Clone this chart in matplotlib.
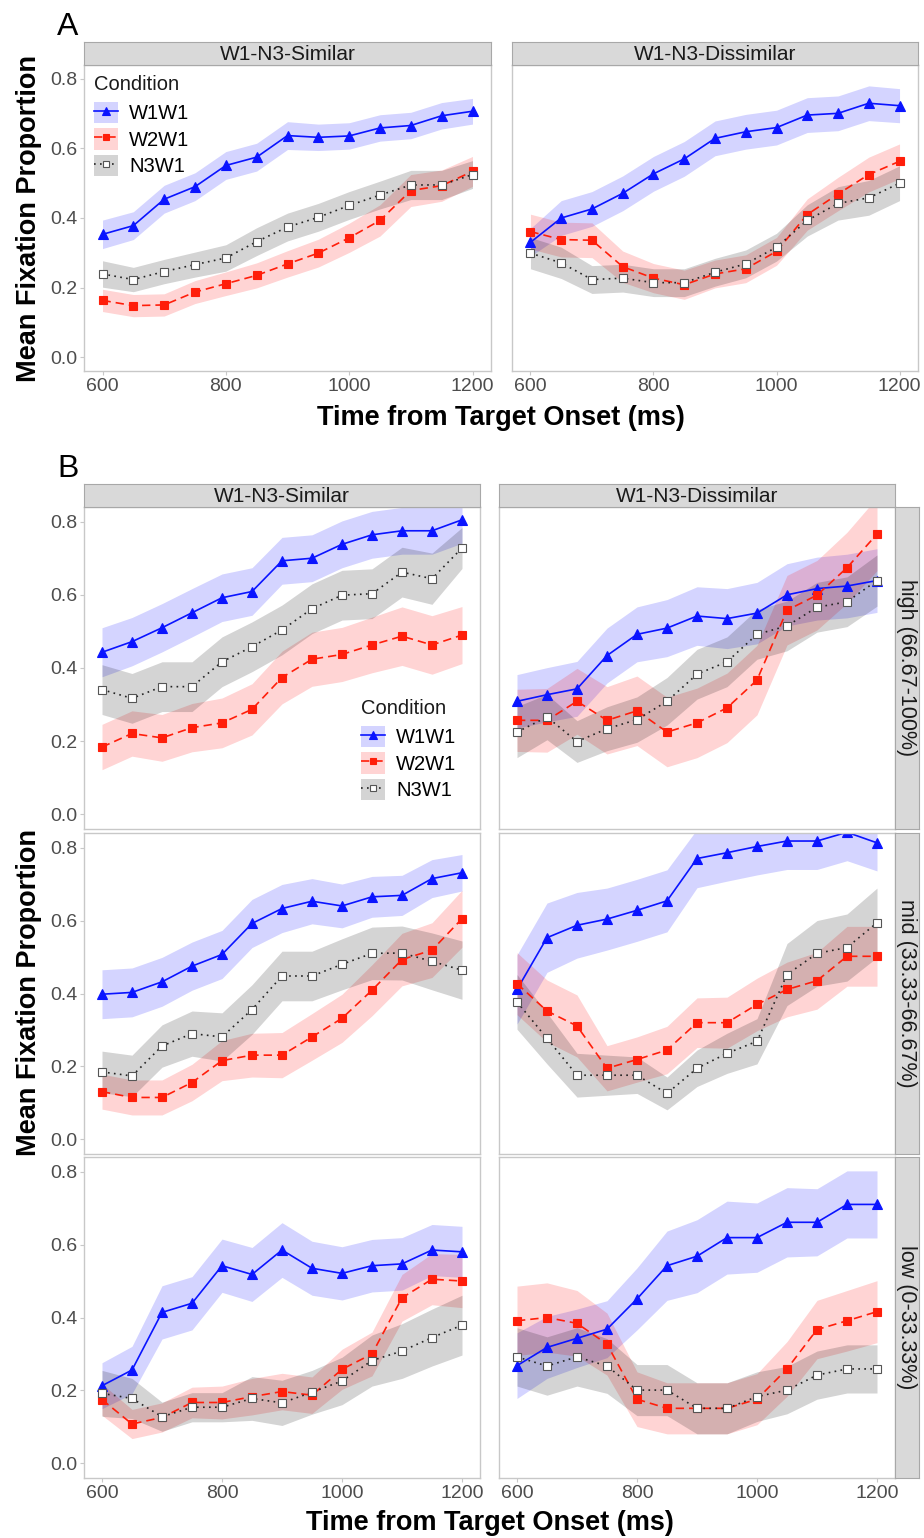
import matplotlib
matplotlib.use("Agg")
import matplotlib.pyplot as plt
from matplotlib.patches import Patch
from matplotlib.lines import Line2D
from matplotlib.legend_handler import HandlerTuple
import numpy as np

plt.rcParams['font.family'] = ['Liberation Sans', 'DejaVu Sans']

# ---------------- data ----------------
time_ms = [600, 650, 700, 750, 800, 850, 900, 950, 1000, 1050, 1100, 1150, 1200]
conditions = ["W1W1", "W2W1", "N3W1"]
legend_title = "Condition"
similarity_labels = ["W1-N3-Similar", "W1-N3-Dissimilar"]
level_labels = ["high (66.67-100%)", "mid (33.33-66.67%)", "low (0-33.33%)"]
y_ticks = [0.0, 0.2, 0.4, 0.6, 0.8]
x_ticks = [600, 800, 1000, 1200]

# Panel A - Similar
A_sim_W1W1 = [0.353, 0.378, 0.454, 0.490, 0.551, 0.575, 0.637, 0.632, 0.636, 0.659, 0.666, 0.694, 0.707]
A_sim_W1W1_se = [0.041, 0.040, 0.040, 0.040, 0.040, 0.040, 0.040, 0.038, 0.038, 0.038, 0.038, 0.038, 0.037]
A_sim_W2W1 = [0.163, 0.148, 0.150, 0.187, 0.211, 0.235, 0.268, 0.299, 0.343, 0.393, 0.479, 0.493, 0.534]
A_sim_W2W1_se = [0.032, 0.032, 0.032, 0.033, 0.034, 0.036, 0.038, 0.040, 0.042, 0.045, 0.046, 0.045, 0.043]
A_sim_N3W1 = [0.239, 0.223, 0.246, 0.266, 0.285, 0.332, 0.374, 0.402, 0.436, 0.466, 0.495, 0.495, 0.525]
A_sim_N3W1_se = [0.038, 0.035, 0.035, 0.036, 0.038, 0.040, 0.040, 0.040, 0.040, 0.040, 0.042, 0.042, 0.040]

# Panel A - Dissimilar
A_dis_W1W1 = [0.330, 0.400, 0.426, 0.471, 0.527, 0.570, 0.629, 0.648, 0.660, 0.696, 0.701, 0.730, 0.723]
A_dis_W1W1_se = [0.040, 0.050, 0.050, 0.050, 0.050, 0.050, 0.050, 0.050, 0.050, 0.050, 0.050, 0.050, 0.049]
A_dis_W2W1 = [0.361, 0.338, 0.336, 0.260, 0.227, 0.208, 0.239, 0.254, 0.304, 0.410, 0.469, 0.525, 0.563]
A_dis_W2W1_se = [0.050, 0.050, 0.050, 0.045, 0.042, 0.042, 0.040, 0.040, 0.040, 0.045, 0.048, 0.050, 0.050]
A_dis_N3W1 = [0.299, 0.271, 0.223, 0.227, 0.214, 0.214, 0.244, 0.268, 0.316, 0.393, 0.442, 0.458, 0.500]
A_dis_N3W1_se = [0.045, 0.045, 0.040, 0.040, 0.040, 0.040, 0.040, 0.040, 0.040, 0.045, 0.048, 0.050, 0.050]

# Panel B - high
B_high_sim_W1W1 = [0.443, 0.472, 0.510, 0.551, 0.592, 0.609, 0.693, 0.700, 0.738, 0.764, 0.775, 0.775, 0.805]
B_high_sim_W1W1_se = [0.067, 0.066, 0.066, 0.066, 0.065, 0.065, 0.064, 0.064, 0.064, 0.064, 0.064, 0.064, 0.064]
B_high_sim_W2W1 = [0.184, 0.221, 0.209, 0.237, 0.250, 0.287, 0.374, 0.424, 0.437, 0.463, 0.487, 0.463, 0.490]
B_high_sim_W2W1_se = [0.062, 0.062, 0.064, 0.066, 0.068, 0.070, 0.072, 0.074, 0.074, 0.076, 0.080, 0.080, 0.078]
B_high_sim_N3W1 = [0.341, 0.317, 0.349, 0.349, 0.417, 0.458, 0.504, 0.562, 0.599, 0.603, 0.662, 0.644, 0.728]
B_high_sim_N3W1_se = [0.068, 0.068, 0.068, 0.068, 0.068, 0.068, 0.068, 0.068, 0.068, 0.068, 0.068, 0.070, 0.056]

B_high_dis_W1W1 = [0.309, 0.327, 0.343, 0.434, 0.492, 0.509, 0.542, 0.535, 0.550, 0.600, 0.617, 0.624, 0.639]
B_high_dis_W1W1_se = [0.073, 0.074, 0.075, 0.075, 0.075, 0.078, 0.080, 0.082, 0.084, 0.085, 0.086, 0.087, 0.087]
B_high_dis_W2W1 = [0.257, 0.257, 0.309, 0.257, 0.283, 0.225, 0.250, 0.291, 0.367, 0.558, 0.599, 0.674, 0.766]
B_high_dis_W2W1_se = [0.085, 0.087, 0.090, 0.092, 0.095, 0.095, 0.095, 0.095, 0.095, 0.095, 0.095, 0.097, 0.100]
B_high_dis_N3W1 = [0.225, 0.266, 0.199, 0.234, 0.259, 0.309, 0.383, 0.417, 0.492, 0.515, 0.566, 0.581, 0.639]
B_high_dis_N3W1_se = [0.070, 0.062, 0.057, 0.060, 0.062, 0.065, 0.068, 0.068, 0.068, 0.068, 0.068, 0.068, 0.070]

# Panel B - mid
B_mid_sim_W1W1 = [0.398, 0.403, 0.432, 0.475, 0.507, 0.592, 0.633, 0.653, 0.640, 0.665, 0.669, 0.715, 0.731]
B_mid_sim_W1W1_se = [0.067, 0.067, 0.067, 0.066, 0.066, 0.066, 0.066, 0.062, 0.060, 0.056, 0.055, 0.052, 0.050]
B_mid_sim_W2W1 = [0.131, 0.115, 0.115, 0.156, 0.216, 0.231, 0.231, 0.281, 0.332, 0.409, 0.493, 0.519, 0.605]
B_mid_sim_W2W1_se = [0.048, 0.048, 0.048, 0.050, 0.055, 0.060, 0.062, 0.064, 0.066, 0.070, 0.072, 0.075, 0.078]
B_mid_sim_N3W1 = [0.185, 0.174, 0.256, 0.290, 0.281, 0.356, 0.448, 0.448, 0.480, 0.510, 0.511, 0.488, 0.464]
B_mid_sim_N3W1_se = [0.057, 0.057, 0.058, 0.062, 0.066, 0.068, 0.068, 0.068, 0.070, 0.072, 0.074, 0.078, 0.080]

B_mid_dis_W1W1 = [0.411, 0.553, 0.587, 0.604, 0.628, 0.654, 0.770, 0.786, 0.803, 0.818, 0.818, 0.842, 0.813]
B_mid_dis_W1W1_se = [0.095, 0.095, 0.090, 0.085, 0.085, 0.085, 0.080, 0.078, 0.078, 0.078, 0.078, 0.078, 0.077]
B_mid_dis_W2W1 = [0.427, 0.352, 0.311, 0.195, 0.219, 0.245, 0.320, 0.320, 0.370, 0.411, 0.435, 0.502, 0.502]
B_mid_dis_W2W1_se = [0.085, 0.085, 0.085, 0.062, 0.062, 0.065, 0.068, 0.070, 0.072, 0.075, 0.078, 0.082, 0.082]
B_mid_dis_N3W1 = [0.377, 0.277, 0.176, 0.176, 0.176, 0.126, 0.195, 0.236, 0.269, 0.452, 0.510, 0.526, 0.594]
B_mid_dis_N3W1_se = [0.075, 0.070, 0.060, 0.055, 0.050, 0.045, 0.050, 0.055, 0.062, 0.085, 0.090, 0.092, 0.095]

# Panel B - low
B_low_sim_W1W1 = [0.213, 0.256, 0.414, 0.439, 0.542, 0.518, 0.585, 0.535, 0.521, 0.542, 0.547, 0.585, 0.580]
B_low_sim_W1W1_se = [0.063, 0.065, 0.073, 0.073, 0.073, 0.074, 0.075, 0.074, 0.073, 0.072, 0.072, 0.070, 0.070]
B_low_sim_W2W1 = [0.175, 0.108, 0.126, 0.167, 0.167, 0.183, 0.197, 0.187, 0.258, 0.300, 0.454, 0.505, 0.500]
B_low_sim_W2W1_se = [0.043, 0.040, 0.040, 0.042, 0.045, 0.050, 0.050, 0.050, 0.055, 0.060, 0.064, 0.070, 0.073]
B_low_sim_N3W1 = [0.192, 0.178, 0.128, 0.154, 0.154, 0.178, 0.166, 0.195, 0.226, 0.282, 0.308, 0.345, 0.379]
B_low_sim_N3W1_se = [0.063, 0.055, 0.040, 0.040, 0.040, 0.060, 0.062, 0.060, 0.065, 0.070, 0.075, 0.078, 0.082]

B_low_dis_W1W1 = [0.268, 0.318, 0.343, 0.368, 0.451, 0.542, 0.568, 0.619, 0.619, 0.661, 0.661, 0.710, 0.710]
B_low_dis_W1W1_se = [0.090, 0.085, 0.080, 0.078, 0.085, 0.095, 0.100, 0.100, 0.095, 0.095, 0.092, 0.092, 0.092]
B_low_dis_W2W1 = [0.391, 0.400, 0.384, 0.327, 0.176, 0.151, 0.151, 0.151, 0.176, 0.259, 0.367, 0.391, 0.416]
B_low_dis_W2W1_se = [0.095, 0.095, 0.090, 0.085, 0.075, 0.070, 0.070, 0.070, 0.070, 0.075, 0.080, 0.083, 0.085]
B_low_dis_N3W1 = [0.292, 0.267, 0.292, 0.267, 0.201, 0.201, 0.151, 0.151, 0.183, 0.201, 0.242, 0.259, 0.259]
B_low_dis_N3W1_se = [0.080, 0.080, 0.080, 0.075, 0.070, 0.070, 0.070, 0.070, 0.068, 0.065, 0.066, 0.066, 0.066]

# ---------------- style ----------------
W, H = 924, 1538
fig = plt.figure(figsize=(W / 100, H / 100), dpi=100)

line_col = {"W1W1": "#0a14ff", "W2W1": "#ff1e0a", "N3W1": "#222222"}
fill_col = {"W1W1": "#0000ff", "W2W1": "#ff0000", "N3W1": "#000000"}
ls = {"W1W1": "-", "W2W1": (0, (5, 3)), "N3W1": (0, (1, 2.6))}
mk = {"W1W1": "^", "W2W1": "s", "N3W1": "s"}
mfc = {"W1W1": "#0a14ff", "W2W1": "#ff1e0a", "N3W1": "white"}
mec = {"W1W1": "#0a14ff", "W2W1": "#ff1e0a", "N3W1": "#555555"}
ms = {"W1W1": 7.2, "W2W1": 5.3, "N3W1": 5.3}
ALPHA = 0.17
BORDER = "#c8c8c8"
STRIP_FC = "#d9d9d9"
STRIP_EC = "#a8a8a8"


def rect(x0, y0, x1, y1):
    return [x0 / W, 1 - y1 / H, (x1 - x0) / W, (y1 - y0) / H]


def draw_panel(ax, series, show_x, show_y):
    for cond in conditions:
        m, se = series[cond]
        m = np.array(m)
        se = np.array(se)
        ax.fill_between(time_ms, m - se, m + se, color=fill_col[cond], alpha=ALPHA, lw=0)
    for cond in conditions:
        m, se = series[cond]
        ax.plot(time_ms, m, color=line_col[cond], ls=ls[cond], lw=1.2,
                marker=mk[cond], ms=ms[cond], mfc=mfc[cond], mec=mec[cond], mew=0.8)
    ax.set_xlim(570, 1230)
    ax.set_ylim(-0.04, 0.84)
    ax.set_facecolor("white")
    for sp in ax.spines.values():
        sp.set_color(BORDER)
        sp.set_linewidth(1.0)
    ax.set_xticks(x_ticks)
    ax.set_yticks(y_ticks)
    ax.set_yticklabels([f"{v:.1f}" for v in y_ticks])
    ax.tick_params(axis="both", labelsize=14, length=3, width=0.8, pad=2,
                   labelcolor="#4d4d4d", color=BORDER)
    if not show_x:
        ax.tick_params(axis="x", bottom=False, labelbottom=False)
    if not show_y:
        ax.tick_params(axis="y", left=False, labelleft=False)


def top_strip(x0, y0, x1, y1, text):
    s = fig.add_axes(rect(x0, y0, x1, y1))
    s.set_facecolor(STRIP_FC)
    s.set_xticks([]); s.set_yticks([])
    for sp in s.spines.values():
        sp.set_color(STRIP_EC); sp.set_linewidth(0.8)
    s.text(0.5, 0.45, text, ha="center", va="center", fontsize=15, color="#1a1a1a",
           transform=s.transAxes)


def right_strip(x0, y0, x1, y1, text):
    s = fig.add_axes(rect(x0, y0, x1, y1))
    s.set_facecolor(STRIP_FC)
    s.set_xticks([]); s.set_yticks([])
    for sp in s.spines.values():
        sp.set_color(STRIP_EC); sp.set_linewidth(0.8)
    s.text(0.5, 0.5, text, ha="center", va="center", fontsize=15.5, color="#1a1a1a",
           rotation=-90, transform=s.transAxes)


def add_legend(ax, x, y_title, y_keys):
    handles = []
    for cond in conditions:
        p = Patch(facecolor=fill_col[cond], alpha=ALPHA, edgecolor="none")
        l = Line2D([], [], color=line_col[cond], ls=ls[cond], lw=1.2, marker=mk[cond],
                   ms=ms[cond] * 0.85, mfc=mfc[cond], mec=mec[cond], mew=0.8)
        handles.append((p, l))
    leg = ax.legend(handles, conditions, handler_map={tuple: HandlerTuple(ndivide=1, pad=0)},
                    loc="upper left", bbox_to_anchor=(x / W, 1 - y_keys / H),
                    bbox_transform=fig.transFigure, frameon=False, fontsize=14.5,
                    handlelength=1.2, handleheight=1.25, labelspacing=0.25,
                    handletextpad=0.55, borderpad=0, borderaxespad=0, numpoints=1)
    fig.text(x / W, 1 - y_title / H, legend_title, fontsize=14.5, ha="left", va="center",
             color="#1a1a1a")
    return leg


# ---------------- Panel A ----------------
A_data = [
    {"W1W1": (A_sim_W1W1, A_sim_W1W1_se), "W2W1": (A_sim_W2W1, A_sim_W2W1_se),
     "N3W1": (A_sim_N3W1, A_sim_N3W1_se)},
    {"W1W1": (A_dis_W1W1, A_dis_W1W1_se), "W2W1": (A_dis_W2W1, A_dis_W2W1_se),
     "N3W1": (A_dis_N3W1, A_dis_N3W1_se)},
]
A_cols = [(84, 491), (512, 918)]
for i, (x0, x1) in enumerate(A_cols):
    ax = fig.add_axes(rect(x0, 65, x1, 371))
    draw_panel(ax, A_data[i], show_x=True, show_y=(i == 0))
    top_strip(x0, 42, x1, 65, similarity_labels[i])
    if i == 0:
        add_legend(ax, 94, 85, 102)

fig.text(57 / W, 1 - 35 / H, "A", fontsize=23, va="baseline", ha="left")
fig.text(29 / W, 1 - 218 / H, "Mean Fixation Proportion", rotation=90, fontsize=19.5,
         fontweight="bold", ha="center", va="center")
fig.text(501 / W, 1 - 425 / H, "Time from Target Onset (ms)", fontsize=19.5,
         fontweight="bold", ha="center", va="baseline")

# ---------------- Panel B ----------------
B_data = [
    [{"W1W1": (B_high_sim_W1W1, B_high_sim_W1W1_se), "W2W1": (B_high_sim_W2W1, B_high_sim_W2W1_se),
      "N3W1": (B_high_sim_N3W1, B_high_sim_N3W1_se)},
     {"W1W1": (B_high_dis_W1W1, B_high_dis_W1W1_se), "W2W1": (B_high_dis_W2W1, B_high_dis_W2W1_se),
      "N3W1": (B_high_dis_N3W1, B_high_dis_N3W1_se)}],
    [{"W1W1": (B_mid_sim_W1W1, B_mid_sim_W1W1_se), "W2W1": (B_mid_sim_W2W1, B_mid_sim_W2W1_se),
      "N3W1": (B_mid_sim_N3W1, B_mid_sim_N3W1_se)},
     {"W1W1": (B_mid_dis_W1W1, B_mid_dis_W1W1_se), "W2W1": (B_mid_dis_W2W1, B_mid_dis_W2W1_se),
      "N3W1": (B_mid_dis_N3W1, B_mid_dis_N3W1_se)}],
    [{"W1W1": (B_low_sim_W1W1, B_low_sim_W1W1_se), "W2W1": (B_low_sim_W2W1, B_low_sim_W2W1_se),
      "N3W1": (B_low_sim_N3W1, B_low_sim_N3W1_se)},
     {"W1W1": (B_low_dis_W1W1, B_low_dis_W1W1_se), "W2W1": (B_low_dis_W2W1, B_low_dis_W2W1_se),
      "N3W1": (B_low_dis_N3W1, B_low_dis_N3W1_se)}],
]
B_cols = [(84, 480), (499, 895)]
B_rows = [(507, 829), (833, 1154), (1157, 1478)]
for r, (y0, y1) in enumerate(B_rows):
    for c, (x0, x1) in enumerate(B_cols):
        ax = fig.add_axes(rect(x0, y0, x1, y1))
        draw_panel(ax, B_data[r][c], show_x=(r == 2), show_y=(c == 0))
        if r == 0:
            top_strip(x0, 484, x1, 507, similarity_labels[c])
            if c == 0:
                add_legend(ax, 361, 709, 726)
    right_strip(895, y0, 919, y1, level_labels[r])

fig.text(57 / W, 1 - 477 / H, "B", fontsize=23, va="baseline", ha="left")
fig.text(29 / W, 1 - 992 / H, "Mean Fixation Proportion", rotation=90, fontsize=19.5,
         fontweight="bold", ha="center", va="center")
fig.text(490 / W, 1 - 1530 / H, "Time from Target Onset (ms)", fontsize=19.5,
         fontweight="bold", ha="center", va="baseline")

fig.savefig("out.png", dpi=100, facecolor="white")
